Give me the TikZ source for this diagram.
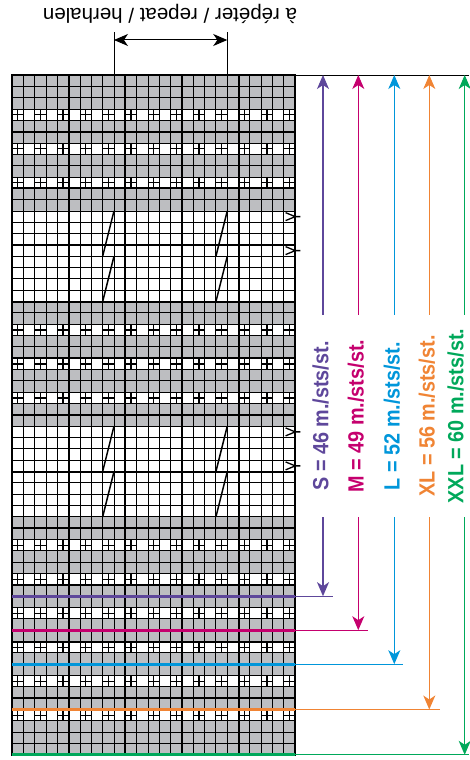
\documentclass[tikz,border=0pt]{standalone}
\usepackage{fontspec}
\setmainfont{Liberation Sans}
\newfontfamily\condfont[FakeStretch=0.9]{Liberation Sans}
\usepackage{tikz}
\usetikzlibrary{positioning,arrows.meta}

\definecolor{chartgrey}{RGB}{189,190,193}
\definecolor{sizeS}{RGB}{94,71,155}
\definecolor{sizeM}{RGB}{197,0,110}
\definecolor{sizeL}{RGB}{0,150,218}
\definecolor{sizeXL}{RGB}{240,132,52}
\definecolor{sizeXXL}{RGB}{0,168,90}

\begin{document}
\begin{tikzpicture}[x=1pt, y=-1pt,
        gridthin/.style={line width=0.9pt, black},
        gridthick/.style={line width=2pt, black},
        crossmark/.style={line width=1.2pt, black},
        cable/.style={line width=1.5pt, black},
        sizeline/.style={line width=3pt},
        sizetick/.style={line width=1pt},
        sizearrow/.style={-{Stealth[length=14pt,width=12pt,inset=4pt]}, line width=1.1pt},
        sizelabel/.style={rotate=90, inner sep=0pt, minimum width=202pt,
                          font=\condfont\bfseries\fontsize{22}{22}\selectfont},
        repeatarrow/.style={{Stealth[length=14pt,width=12pt,inset=4pt]}-{Stealth[length=14pt,width=12pt,inset=4pt]},
                            line width=1pt},
    ]
    \useasboundingbox (0,0) rectangle (469,760);

    % chart, one unit = one stitch
    \begin{scope}[shift={(12pt,-75pt)}, x=11.33pt, y=-11.33pt]
        \fill[chartgrey] (0,0) rectangle (25,60);
        \fill[white] (0,12) rectangle (25,20) (0,31) rectangle (25,39);
        \foreach \r in {3,6,9,22,25,28,41,44,47,50,53,56} {
            \fill[white] (0,\r) rectangle (25,\r+1);
            \foreach \c in {0,2,...,24}
                \draw[crossmark] (\c+0.5,\r) -- (\c+0.5,\r+1) (\c,\r+0.5) -- (\c+1,\r+0.5);
        }
        \foreach \c in {1,...,24} \draw[gridthin] (\c,0) -- (\c,60);
        \foreach \r in {1,...,59} \draw[gridthin] (0,\r) -- (25,\r);
        \foreach \c in {5,10,...,20} \draw[gridthick] (\c,0) -- (\c,60);
        \foreach \r in {5,10,...,55} \draw[gridthick] (0,\r) -- (25,\r);
        % cables
        \foreach \c in {8,18} \foreach \r in {12,16,31,35}
            \draw[cable] (\c,\r+4) -- (\c+1,\r);
        % edge marks
        \foreach \r in {12,15,31,34}
            \draw[cable, line width=1.3pt] (24.15,\r+0.15) -- (25,\r+0.5) -- (24.15,\r+0.85)
                (25,\r+0.5) -- (25.45,\r+0.5);
        \draw[line width=2pt] (0,0) rectangle (25,60);
        \coordinate (rep1) at (9,0);
        \coordinate (rep2) at (19,0);
        \coordinate (chartNE) at (25,0);
        \foreach \s/\r in {S/46, M/49, L/52, XL/56, XXL/60} {
            \coordinate (w\s) at (0,\r);
            \coordinate (e\s) at (25,\r);
        }
    \end{scope}

    % repeat
    \node[rotate=180, inner sep=0pt, font=\fontsize{20.5}{20.5}\selectfont] (reptext) at (170,14)
        {à répéter / repeat / herhalen};
    \draw[line width=0.9pt] (rep1) -- (rep1 |- 0,32);
    \draw[line width=0.9pt] (rep2) -- (rep2 |- 0,32);
    \draw[repeatarrow] (rep1 |- 0,40) -- (rep2 |- 0,40);

    % top rule
    \coordinate (rightedge) at (469,75);
    \draw[line width=0.9pt] (chartNE) -- (rightedge);

    % sizes
    \foreach \s/\n/\xa/\xe/\dx in {S/46/323/333/-2.5, M/49/358.3/368/-2.5, L/52/394.3/403/-2.5,
                                   XL/56/429.3/439.5/-2.5, XXL/60/464.7/469/-9} {
        \draw[sizeline, size\s] (w\s) -- (e\s);
        \draw[sizetick, size\s] (e\s) -- (e\s -| \xe,0);
        \coordinate (top\s) at (\xa,75);
        \node[sizelabel, text=size\s] (lab\s) at (\xa+\dx,416) {\s{} = \n{} m./sts/st.};
        \draw[sizearrow, size\s] (top\s |- lab\s.east) -- (top\s);
        \draw[sizearrow, size\s] (top\s |- lab\s.west) -- (e\s -| top\s);
    }
\end{tikzpicture}
\end{document}
